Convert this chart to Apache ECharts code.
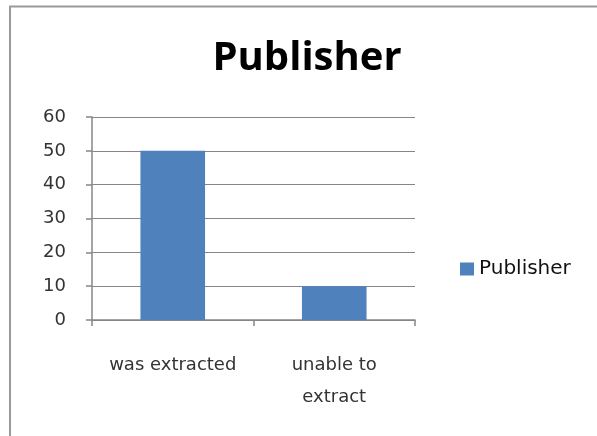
<!DOCTYPE html>
<html>
<head>
<meta charset="utf-8">
<script src="https://cdn.jsdelivr.net/npm/echarts@6/dist/echarts.min.js"></script>
<style>
  html, body { margin: 0; padding: 0; background: #fff; }
  #chart { width: 597px; height: 436px; }
</style>
</head>
<body>
<div id="chart"></div>
<script>
// Extraction outcome counts for the publisher field
const categories = ['was extracted', 'unable to\nextract'];
const publisherValues = [50, 10];
const seriesName = 'Publisher';
const chartTitle = 'Publisher';

const titleFont = '"Open Sans", "Liberation Sans", sans-serif';
const labelFont = '"DejaVu Sans", "Open Sans", sans-serif';
const gray = '#868686';

const chart = echarts.init(document.getElementById('chart'), null, { renderer: 'canvas' });
chart.setOption({
  backgroundColor: '#fff',
  animation: false,
  title: {
    text: chartTitle,
    left: 302, top: 34, textAlign: 'center',
    textStyle: { fontFamily: titleFont, fontSize: 40, fontWeight: 'bold', color: '#000' }
  },
  legend: {
    data: [seriesName],
    left: 455, top: 254,
    itemWidth: 14, itemHeight: 13, itemGap: 6,
    icon: 'rect',
    textStyle: { fontFamily: labelFont, fontSize: 20, color: '#111', padding: [0, 0, 0, 0] }
  },
  grid: { left: 92, right: 182, top: 117, bottom: 116, containLabel: false },
  xAxis: {
    type: 'category',
    data: categories,
    axisLine: { lineStyle: { color: gray, width: 1.5 } },
    axisTick: { show: true, length: 6, lineStyle: { color: gray, width: 1.5 } },
    axisLabel: {
      interval: 0, hideOverlap: false,
      fontFamily: labelFont, fontSize: 18, color: '#333', margin: 29, lineHeight: 32
    }
  },
  yAxis: {
    type: 'value',
    min: 0, max: 60, interval: 10,
    axisLine: { show: true, lineStyle: { color: gray, width: 1.5 } },
    axisTick: { show: true, length: 6, lineStyle: { color: gray, width: 1.5 } },
    splitLine: { lineStyle: { color: gray, width: 1.2 } },
    axisLabel: { fontFamily: labelFont, fontSize: 18, color: '#333', margin: 26 }
  },
  series: [{
    name: seriesName,
    type: 'bar',
    data: publisherValues,
    barWidth: '40%',
    itemStyle: { color: '#4F81BD' }
  }],
  graphic: [{
    type: 'polyline',
    shape: { points: [[10, 436], [10, 6.5], [597, 6.5]] },
    style: { stroke: '#9a9a9a', lineWidth: 2, fill: null },
    silent: true
  }]
});
</script>
</body>
</html>
